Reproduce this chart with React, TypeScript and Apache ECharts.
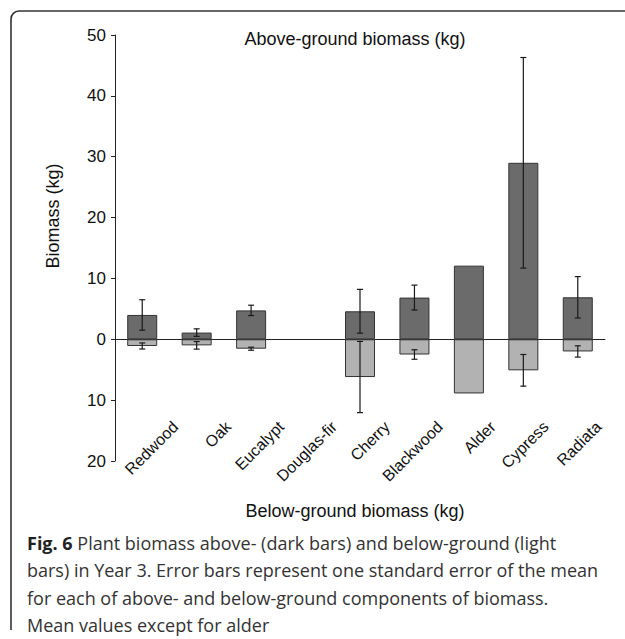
import React, { useEffect, useRef } from "react";
import * as echarts from "echarts";

const categories = ["Redwood", "Oak", "Eucalypt", "Douglas-fir", "Cherry", "Blackwood", "Alder", "Cypress", "Radiata"];
const aboveMean: (number | null)[] = [4.0, 1.1, 4.75, null, 4.6, 6.85, 12.1, 29.0, 6.9];
const aboveSE: (number | null)[] = [2.5, 0.62, 0.85, null, 3.6, 2.05, null, 17.3, 3.4];
const belowMean: (number | null)[] = [-1.1, -1.0, -1.55, null, -6.2, -2.5, -8.9, -5.1, -2.0];
const belowSE: (number | null)[] = [0.5, 0.62, 0.25, null, 5.85, 0.78, null, 2.6, 0.93];

const yTicks = { min: -20, max: 50, interval: 10 };

const titleTop = "Above-ground biomass (kg)";
const titleBottom = "Below-ground biomass (kg)";
const yName = "Biomass (kg)";
const captionBold = "Fig. 6";
const captionLines = [
  " Plant biomass above- (dark bars) and below-ground (light",
  "bars) in Year 3. Error bars represent one standard error of the mean",
  "for each of above- and below-ground components of biomass.",
  "Mean values except for alder",
];

const CHART_FONT = "'Liberation Sans', Arial, sans-serif";
const CAPTION_FONT = "'Open Sans', 'Noto Sans', sans-serif";

export default function App() {
  const ref = useRef<HTMLDivElement>(null);
  useEffect(() => {
    if (!ref.current) return;
    const chart = echarts.init(ref.current, null, { renderer: "svg" });

    const errData: any[] = [];
    categories.forEach((_, i) => {
      if (aboveMean[i] != null && aboveSE[i] != null) errData.push([i, aboveMean[i], aboveSE[i]]);
      if (belowMean[i] != null && belowSE[i] != null) errData.push([i, belowMean[i], belowSE[i]]);
    });

    const gridLeft = 115;
    const gridTop = 35;
    const gridW = 490;
    const gridH = 426;

    const captionY0 = 543;
    const captionStep = 27.3;

    const graphics: any[] = [
      { type: "line", shape: { x1: 11, y1: 630, x2: 11, y2: 19 }, style: { stroke: "#333", lineWidth: 1.6 } },
      { type: "arc", shape: { cx: 19, cy: 19, r: 8, startAngle: Math.PI, endAngle: Math.PI * 1.5, clockwise: true }, style: { stroke: "#333", lineWidth: 1.6, fill: "none" } },
      { type: "line", shape: { x1: 19, y1: 11, x2: 625, y2: 11 }, style: { stroke: "#333", lineWidth: 1.6 } },
      {
        type: "text", x: 355, y: 39,
        style: { text: titleTop, fontSize: 18, fontFamily: CHART_FONT, fill: "#111", align: "center", verticalAlign: "middle" },
      },
      {
        type: "text", x: 355, y: 511,
        style: { text: titleBottom, fontSize: 18, fontFamily: CHART_FONT, fill: "#111", align: "center", verticalAlign: "middle" },
      },
      {
        type: "text", x: 53, y: 216, rotation: Math.PI / 2,
        style: { text: yName, fontSize: 18, fontFamily: CHART_FONT, fill: "#111", align: "center", verticalAlign: "middle" },
      },
    ];
    captionLines.forEach((line, i) => {
      graphics.push({
        type: "text", x: 27, y: captionY0 + i * captionStep,
        style: {
          text: i === 0 ? `{b|${captionBold}}{n|${line}}` : `{n|${line}}`,
          align: "left", verticalAlign: "middle",
          rich: {
            b: { fontFamily: CAPTION_FONT, fontSize: 18, fontWeight: "bold", fill: "#222" },
            n: { fontFamily: CAPTION_FONT, fontSize: 18, fill: "#333" },
          },
        },
      });
    });

    chart.setOption({
      animation: false,
      backgroundColor: "#fff",
      grid: [
        { left: gridLeft, top: gridTop, width: gridW, height: gridH },
        { left: gridLeft + 34, top: gridTop, width: gridW, height: gridH },
      ],
      xAxis: [
        {
          type: "category", gridIndex: 0, data: categories,
          axisLine: { onZero: true, lineStyle: { color: "#222", width: 1 } },
          axisTick: { show: false }, axisLabel: { show: false },
        },
        {
          type: "category", gridIndex: 1, data: categories, position: "bottom", offset: -37,
          axisLine: { show: false, onZero: false }, axisTick: { show: false },
          axisLabel: { rotate: 45, margin: 0, fontSize: 16, fontFamily: CHART_FONT, color: "#111", interval: 0 },
        },
      ],
      yAxis: [
        {
          type: "value", gridIndex: 0, min: yTicks.min, max: yTicks.max, interval: yTicks.interval,
          splitLine: { show: false },
          axisLine: { show: true, lineStyle: { color: "#222", width: 1 } },
          axisTick: { show: true, length: 4, lineStyle: { color: "#222" } },
          axisLabel: {
            fontSize: 17, fontFamily: CHART_FONT, color: "#111", margin: 9,
            formatter: (v: number) => String(Math.abs(v)),
          },
        },
        { type: "value", gridIndex: 1, min: yTicks.min, max: yTicks.max, show: false, splitLine: { show: false } },
      ],
      series: [
        {
          type: "bar", name: "Above-ground", xAxisIndex: 0, yAxisIndex: 0, stack: "bio",
          data: aboveMean, barWidth: 30,
          itemStyle: { color: "#6b6b6b", borderColor: "#333", borderWidth: 1 },
        },
        {
          type: "bar", name: "Below-ground", xAxisIndex: 0, yAxisIndex: 0, stack: "bio",
          data: belowMean, barWidth: 30,
          itemStyle: { color: "#b2b2b2", borderColor: "#333", borderWidth: 1 },
        },
        {
          type: "custom", name: "SE", xAxisIndex: 0, yAxisIndex: 0, z: 10,
          data: errData,
          renderItem: (params: any, api: any) => {
            const i = api.value(0);
            const m = api.value(1);
            const se = api.value(2);
            const hi = api.coord([i, m + se]);
            const lo = api.coord([i, m - se]);
            const cap = 3;
            const st = { stroke: "#1a1a1a", lineWidth: 1.2 };
            return {
              type: "group",
              children: [
                { type: "line", shape: { x1: hi[0], y1: hi[1], x2: lo[0], y2: lo[1] }, style: st },
                { type: "line", shape: { x1: hi[0] - cap, y1: hi[1], x2: hi[0] + cap, y2: hi[1] }, style: st },
                { type: "line", shape: { x1: lo[0] - cap, y1: lo[1], x2: lo[0] + cap, y2: lo[1] }, style: st },
              ],
            };
          },
        },
      ],
      graphic: graphics,
    });

    return () => chart.dispose();
  }, []);

  return <div ref={ref} style={{ position: "fixed", left: 0, top: 0, width: 625, height: 639 }} />;
}
